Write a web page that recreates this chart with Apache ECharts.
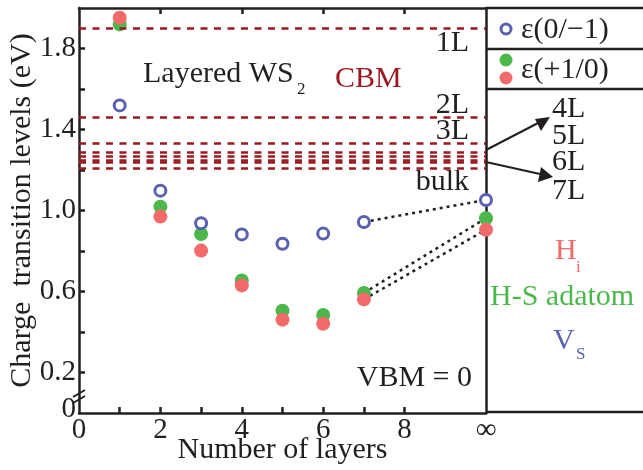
<!DOCTYPE html>
<html>
<head>
<meta charset="utf-8">
<script src="https://cdn.jsdelivr.net/npm/echarts@6/dist/echarts.min.js"></script>
<style>html,body{margin:0;padding:0;background:#fff}#c{width:643px;height:470px}</style>
</head>
<body>
<div id="c"></div>
<script>
// ---- data ----
const layers = [1, 2, 3, 4, 5, 6, 7];
const bulkX = 10; // "∞" position on the axis
const vS      = [1.519, 1.098, 0.937, 0.882, 0.836, 0.886, 0.943];
const vSBulk = 1.052;
const hsAdatom = [1.919, 1.019, 0.884, 0.654, 0.505, 0.484, 0.593];
const hsBulk = 0.962;
const hi       = [1.952, 0.970, 0.802, 0.630, 0.461, 0.441, 0.561];
const hiBulk = 0.905;
const cbmLabels = ['1L', '2L', '3L', '4L', '5L', '6L', '7L', 'bulk'];
const cbmValues = [1.901, 1.462, 1.331, 1.293, 1.272, 1.254, 1.241, 1.213];
const xTickValues = [1, 2, 3, 4, 5, 6, 7, 8];
const xTopTickValues = [2, 4, 6, 8];
const xLabelValues = [0, 2, 4, 6, 8, 10];
const yTickValues = [0.2, 0.4, 0.6, 0.8, 1.0, 1.2, 1.4, 1.6, 1.8];
const yLabelValues = [0, 0.2, 0.6, 1.0, 1.4, 1.8];

const FONT = '"Liberation Serif", "Times New Roman", "DejaVu Serif", serif';
const INK = '#231f20';
const RED = '#f26a6a';
const GREEN = '#4cb84c';
const BLUE = '#5a60b0';
const DARKRED = '#9a1a1f';

function pts(vals, bulk) {
  return layers.map((x, i) => [x, vals[i]]).concat([[bulkX, bulk]]);
}
function link(vals, bulk) {
  return [[layers[layers.length - 1], vals[vals.length - 1]], [bulkX, bulk]];
}

const chart = echarts.init(document.getElementById('c'), null, {renderer: 'canvas'});

const txt = (x, y, text, opts) => ({
  type: 'text', x: x, y: y, silent: true, z: 10,
  style: Object.assign({text: text, font: '30px ' + FONT, fill: INK,
    textVerticalAlign: 'middle', textAlign: 'left'}, (opts && opts.style) || {})
});
const seg = (x1, y1, x2, y2, w, color) => ({
  type: 'line', silent: true, z: 10,
  shape: {x1: x1, y1: y1, x2: x2, y2: y2},
  style: {stroke: color || INK, lineWidth: w || 2.5}
});

const option = {
  animation: false,
  backgroundColor: '#fff',
  grid: {left: 79, right: 157, top: 8, bottom: 57, containLabel: false, outerBoundsMode: 'none'},
  xAxis: [{
    type: 'value', min: 0, max: 10, position: 'bottom',
    axisLine: {show: true, onZero: false, lineStyle: {color: INK, width: 2.5}},
    axisTick: {show: true, inside: true, length: 6, customValues: xTickValues, lineStyle: {color: INK, width: 2.5}},
    axisLabel: {show: true, customValues: xLabelValues, margin: 3, color: INK, fontFamily: FONT, fontSize: 29,
      formatter: v => v === bulkX ? '∞' : String(v)},
    splitLine: {show: false},
    name: 'Number of layers', nameLocation: 'middle', nameGap: 22, nameMoveOverlap: false,
    nameTextStyle: {fontFamily: FONT, fontSize: 30, color: INK}
  }, {
    type: 'value', min: 0, max: 10, position: 'top',
    axisLine: {show: true, onZero: false, lineStyle: {color: INK, width: 2.5}},
    axisTick: {show: true, inside: true, length: 6, customValues: xTopTickValues, lineStyle: {color: INK, width: 2.5}},
    axisLabel: {show: false},
    splitLine: {show: false}
  }],
  yAxis: [{
    type: 'value', min: 0, max: 2, position: 'left',
    axisLine: {show: true, onZero: false, lineStyle: {color: INK, width: 2.5}},
    axisTick: {show: true, inside: true, length: 6, customValues: yTickValues, lineStyle: {color: INK, width: 2.5}},
    axisLabel: {show: true, customValues: yLabelValues, margin: 3, color: INK, fontFamily: FONT, fontSize: 29,
      formatter: v => v === 0 ? '{z|0}' : v.toFixed(1),
      rich: {z: {fontFamily: FONT, fontSize: 29, color: INK, padding: [0, 0, 8, 0]}}},
    splitLine: {show: false},
    name: 'Charge  transition levels (eV)', nameLocation: 'middle', nameGap: 42, nameMoveOverlap: false,
    nameTextStyle: {fontFamily: FONT, fontSize: 30, color: INK}
  }, {
    type: 'value', min: 0, max: 2, position: 'right',
    axisLine: {show: true, onZero: false, lineStyle: {color: INK, width: 2.5}},
    axisTick: {show: false}, axisLabel: {show: false}, splitLine: {show: false}
  }],
  series: [
    {
      type: 'line', data: [], silent: true, z: 1,
      markLine: {
        silent: true, symbol: 'none', animation: false,
        label: {show: false},
        lineStyle: {color: DARKRED, width: 2.6, type: [7, 6.5], opacity: 1},
        data: cbmValues.map(v => ({yAxis: v}))
      }
    },
    {type: 'line', data: link(vS, vSBulk), symbol: 'none', silent: true, z: 2,
      lineStyle: {color: INK, width: 2.5, type: [3, 4]}},
    {type: 'line', data: link(hsAdatom, hsBulk), symbol: 'none', silent: true, z: 2,
      lineStyle: {color: INK, width: 2.5, type: [3, 4]}},
    {type: 'line', data: link(hi, hiBulk), symbol: 'none', silent: true, z: 2,
      lineStyle: {color: INK, width: 2.5, type: [3, 4]}},
    {type: 'scatter', name: 'H-S adatom', data: pts(hsAdatom, hsBulk), symbol: 'circle', symbolSize: 14,
      clip: false, z: 3, itemStyle: {color: GREEN, opacity: 1}},
    {type: 'scatter', name: 'Hi', data: pts(hi, hiBulk), symbol: 'circle', symbolSize: 14,
      clip: false, z: 4, itemStyle: {color: RED, opacity: 1}},
    {type: 'scatter', name: 'VS', data: pts(vS, vSBulk), symbol: 'circle', symbolSize: 11,
      clip: false, z: 5, itemStyle: {color: '#fff', borderColor: BLUE, borderWidth: 3, opacity: 1}}
  ],
  graphic: {elements: [
    // right panel frame
    seg(486, 8, 643, 8),
    seg(486, 412, 643, 412),
    seg(486, 49, 643, 49),
    seg(486, 89, 643, 89),
    // axis break mark
    seg(73, 397, 85, 390, 2),
    seg(73, 403, 85, 396, 2),
    // legend
    {type: 'circle', silent: true, z: 10, shape: {cx: 506, cy: 29, r: 5}, style: {fill: '#fff', stroke: BLUE, lineWidth: 3}},
    txt(521, 30, 'ε(0/−1)'),
    {type: 'circle', silent: true, z: 10, shape: {cx: 506, cy: 60, r: 6.5}, style: {fill: GREEN}},
    {type: 'circle', silent: true, z: 10, shape: {cx: 506, cy: 78, r: 6.5}, style: {fill: RED}},
    txt(521, 70, 'ε(+1/0)'),
    // arrows
    seg(486, 150, 540, 122, 2),
    {type: 'polygon', silent: true, z: 10, shape: {points: [[550, 117], [535, 119], [541, 131]]}, style: {fill: INK}},
    seg(486, 162, 540, 174, 2),
    {type: 'polygon', silent: true, z: 10, shape: {points: [[553, 177], [541, 167], [538, 182]]}, style: {fill: INK}},
    txt(552, 109, '4L'),
    txt(552, 136, '5L'),
    txt(552, 162, '6L'),
    txt(552, 191, '7L'),
    // CBM labels
    txt(469, 43, '1L', {style: {textAlign: 'right'}}),
    txt(469, 105, '2L', {style: {textAlign: 'right'}}),
    txt(469, 131, '3L', {style: {textAlign: 'right'}}),
    txt(469, 182, 'bulk', {style: {textAlign: 'right'}}),
    // annotations
    txt(143, 74, 'Layered WS'),
    txt(297, 90, '2', {style: {font: '17px ' + FONT}}),
    txt(335, 79, 'CBM', {style: {fill: DARKRED}}),
    txt(472, 378, 'VBM = 0', {style: {textAlign: 'right'}}),
    txt(555, 251, 'H', {style: {fill: RED}}),
    txt(576, 268, 'i', {style: {fill: RED, font: '17px ' + FONT}}),
    txt(490, 297, 'H-S adatom', {style: {fill: GREEN}}),
    txt(553, 341, 'V', {style: {fill: BLUE}}),
    txt(576, 355, 'S', {style: {fill: BLUE, font: '17px ' + FONT}})
  ]}
};
chart.setOption(option);
</script>
</body>
</html>
